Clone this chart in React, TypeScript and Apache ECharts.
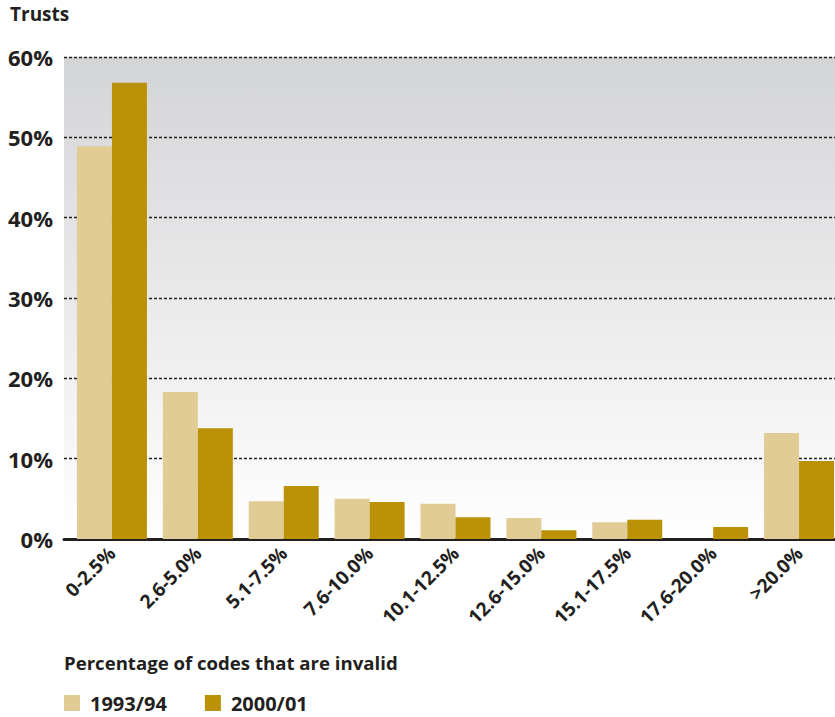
import React, { useEffect, useRef } from "react";
import * as echarts from "echarts";

const categories = [
  "0-2.5%",
  "2.6-5.0%",
  "5.1-7.5%",
  "7.6-10.0%",
  "10.1-12.5%",
  "12.6-15.0%",
  "15.1-17.5%",
  "17.6-20.0%",
  ">20.0%",
];
const seriesNames = ["1993/94", "2000/01"];
const values1993 = [48.9, 18.3, 4.7, 5.0, 4.4, 2.6, 2.1, 0, 13.2];
const values2000 = [56.8, 13.8, 6.6, 4.6, 2.7, 1.1, 2.4, 1.5, 9.7];
const yTicks = { min: 0, max: 60, interval: 10 };

const FONT = "'Open Sans', 'Noto Sans', sans-serif";
const INK = "#231f20";
const LIGHT = "#e2cc96";
const DARK = "#bb9107";

export default function App() {
  const ref = useRef<HTMLDivElement>(null);

  useEffect(() => {
    if (!ref.current) return;
    const chart = echarts.init(ref.current, undefined, { renderer: "svg" });
    chart.setOption({
      animation: false,
      title: [
        {
          text: "Trusts",
          left: 10,
          top: 4,
          padding: 0,
          textStyle: { fontFamily: FONT, fontSize: 19, fontWeight: "bold", color: INK },
        },
        {
          text: "Percentage of codes that are invalid",
          left: 64,
          top: 653,
          padding: 0,
          textStyle: { fontFamily: FONT, fontSize: 18.6, fontWeight: "bold", color: INK },
        },
      ],
      legend: {
        data: seriesNames,
        left: 64,
        top: 693,
        padding: 0,
        itemWidth: 16,
        itemHeight: 16,
        itemGap: 38,
        icon: "rect",
        textStyle: {
          fontFamily: FONT,
          fontSize: 20,
          lineHeight: 20,
          fontWeight: "bold",
          color: INK,
          padding: [0, 0, 0, 5],
        },
      },
      grid: [
        {
          left: 64,
          right: 0,
          top: 57,
          bottom: 178,
          outerBoundsMode: "none",
          show: true,
          borderWidth: 0,
          backgroundColor: new echarts.graphic.LinearGradient(0, 0, 0, 1, [
            { offset: 0, color: "#d3d4d6" },
            { offset: 1, color: "#ffffff" },
          ]),
        },
        // bar grid runs slightly past the right edge so the last group is cropped flush
        { left: 69, width: 773, top: 57, bottom: 178, outerBoundsMode: "none" },
      ],
      xAxis: [
        {
          type: "value",
          gridIndex: 0,
          min: 0,
          max: 1,
          axisLabel: { show: false },
          axisTick: { show: false },
          splitLine: { show: false },
          axisLine: { show: true, onZero: false, lineStyle: { color: INK, width: 3 } },
        },
        {
          type: "category",
          gridIndex: 1,
          data: categories,
          axisLine: { show: false },
          axisTick: { show: false },
          axisLabel: {
            rotate: 45,
            margin: 11,
            interval: 0,
            fontFamily: FONT,
            fontSize: 19,
            fontWeight: "bold",
            color: INK,
          },
        },
      ],
      yAxis: [
        {
          type: "value",
          gridIndex: 0,
          ...yTicks,
          axisLine: { show: false },
          axisTick: { show: false },
          axisLabel: {
            formatter: "{value}%",
            margin: 11,
            fontFamily: FONT,
            fontSize: 22,
            fontWeight: "bold",
            color: INK,
          },
          splitLine: {
            show: true,
            lineStyle: { color: INK, width: 1.3, type: [3, 2] },
          },
        },
        {
          type: "value",
          gridIndex: 1,
          ...yTicks,
          show: false,
          splitLine: { show: false },
        },
      ],
      series: [
        {
          name: seriesNames[0],
          type: "bar",
          xAxisIndex: 1,
          yAxisIndex: 1,
          data: values1993,
          itemStyle: { color: LIGHT },
          barGap: "0%",
          barCategoryGap: "18.5%",
        },
        {
          name: seriesNames[1],
          type: "bar",
          xAxisIndex: 1,
          yAxisIndex: 1,
          data: values2000,
          itemStyle: { color: DARK },
          barGap: "0%",
          barCategoryGap: "18.5%",
        },
      ],
    });
    return () => chart.dispose();
  }, []);

  return (
    <div
      ref={ref}
      style={{ position: "absolute", left: 0, top: 0, width: 835, height: 717 }}
    />
  );
}
